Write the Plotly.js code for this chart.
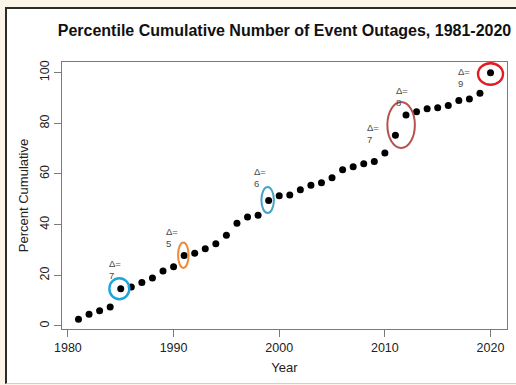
<!DOCTYPE html>
<html>
<head>
<meta charset="utf-8">
<script src="https://cdn.plot.ly/plotly-3.0.1.min.js"></script>
<style>
  html, body { margin: 0; padding: 0; width: 516px; height: 385px; overflow: hidden; background: #fbf5e9; }
  #frame {
    position: absolute; left: 5px; top: 7px; width: 530px; height: 374px;
    background: #ffffff;
    border-left: 2px solid #2b2b2b; border-top: 2px solid #2b2b2b;
    border-bottom: 1px solid #cfcfcf;
  }
  #chart { position: absolute; left: 0; top: 0; width: 516px; height: 385px; }
</style>
</head>
<body>
<div id="frame"></div>
<div id="chart"></div>
<script>
// Cumulative share of event outages by year (percent of the 1981-2020 total)
const years = [1981, 1982, 1983, 1984, 1985, 1986, 1987, 1988, 1989, 1990,
               1991, 1992, 1993, 1994, 1995, 1996, 1997, 1998, 1999, 2000,
               2001, 2002, 2003, 2004, 2005, 2006, 2007, 2008, 2009, 2010,
               2011, 2012, 2013, 2014, 2015, 2016, 2017, 2018, 2019, 2020];
const percentCumulative = [2.6, 4.6, 6.0, 7.5, 14.7, 15.4, 17.2, 18.9, 21.7, 23.4,
                           27.8, 28.7, 30.5, 32.5, 35.8, 40.5, 43.0, 43.7, 49.5, 51.4,
                           51.7, 53.8, 55.5, 56.5, 58.5, 61.7, 62.8, 64.0, 64.9, 68.3,
                           75.3, 83.3, 84.6, 85.7, 86.1, 87.0, 89.0, 89.6, 91.9, 100];

// Years with a large jump in outages, and the size of each jump
const jumpYears = [1985, 1991, 1999, 2011, 2012, 2020];
const jumpDeltas = [7, 5, 6, 7, 8, 9];

// Highlight rings: which jump years each ring encloses
const ringGroups = [[1985], [1991], [1999], [2011, 2012], [2020]];

// Ring styling (pixel sizes and offsets from the enclosed points)
const ringStyle = [
  { color: '#1ea4e0', w: 20, h: 21, dx: -1.4, dy: 0, lw: 2.4 },
  { color: '#ef8a3a', w: 10.5, h: 25.5, dx: -0.8, dy: 0.4, lw: 2.0 },
  { color: '#45a3c5', w: 12.5, h: 26, dx: -1, dy: 0.5, lw: 2.0 },
  { color: '#b45251', w: 27.5, h: 46, dx: 0.4, dy: 0, lw: 2.0 },
  { color: '#e41b1f', w: 25, h: 21.5, dx: 0, dy: -1.3, lw: 2.4 }
];

// Label offsets (pixels) for each delta label relative to its point
const labelOffset = [
  { dx: -12.4, dy: 6.7 },
  { dx: -19, dy: 6 },
  { dx: -16, dy: 10.7 },
  { dx: -29.7, dy: -10.7 },
  { dx: -11, dy: 6 },
  { dx: -34, dy: -17 }
];

const valueOf = y => percentCumulative[years.indexOf(y)];

const shapes = ringGroups.map((grp, i) => {
  const s = ringStyle[i];
  const cx = grp.reduce((a, y) => a + y, 0) / grp.length;
  const cy = grp.reduce((a, y) => a + valueOf(y), 0) / grp.length;
  return {
    type: 'circle', xref: 'x', yref: 'y',
    xsizemode: 'pixel', ysizemode: 'pixel',
    xanchor: cx, yanchor: cy,
    x0: s.dx - s.w / 2, x1: s.dx + s.w / 2,
    y0: s.dy - s.h / 2, y1: s.dy + s.h / 2,
    line: { color: s.color, width: s.lw },
    fillcolor: 'rgba(0,0,0,0)'
  };
});

const annotations = jumpYears.map((y, i) => ({
  x: y, y: valueOf(y), xref: 'x', yref: 'y',
  text: '\u0394=<br>' + jumpDeltas[i],
  showarrow: false, align: 'left',
  xanchor: 'left', yanchor: 'bottom',
  xshift: labelOffset[i].dx, yshift: labelOffset[i].dy,
  font: { family: 'Liberation Sans, Arial, sans-serif', size: 9.5, color: '#4a4a4a' },
  borderpad: 0
}));

const axisCommon = {
  showline: true, mirror: true, linecolor: '#7a7a7a', linewidth: 1,
  ticks: 'outside', ticklen: 7, tickcolor: '#7a7a7a', tickwidth: 1,
  showgrid: false, zeroline: false,
  tickfont: { family: 'Liberation Sans, Arial, sans-serif', size: 12.5, color: '#222' }
};

const trace = {
  x: years, y: percentCumulative, type: 'scatter', mode: 'markers',
  marker: { color: '#000', size: 7 },
  hoverinfo: 'x+y'
};

const layout = {
  width: 516, height: 385,
  margin: { l: 62, r: 9, t: 62, b: 56 },
  paper_bgcolor: 'rgba(0,0,0,0)', plot_bgcolor: 'rgba(0,0,0,0)',
  showlegend: false,
  title: {
    text: 'Percentile Cumulative Number of Event Outages, 1981-2020',
    font: { family: 'Liberation Sans, Arial, sans-serif', size: 16, color: '#111', weight: 'bold' },
    xref: 'paper', x: 0.5, xanchor: 'center',
    yref: 'container', y: 1 - 30 / 385, yanchor: 'middle'
  },
  xaxis: Object.assign({}, axisCommon, {
    range: [1979.44, 2021.56],
    tickvals: [1980, 1990, 2000, 2010, 2020],
    title: { text: 'Year', standoff: 8,
             font: { family: 'Liberation Sans, Arial, sans-serif', size: 13, color: '#222' } }
  }),
  yaxis: Object.assign({}, axisCommon, {
    range: [-1.2, 104.2],
    tickvals: [0, 20, 40, 60, 80, 100],
    tickangle: -90,
    title: { text: 'Percent Cumulative', standoff: 6,
             font: { family: 'Liberation Sans, Arial, sans-serif', size: 13, color: '#222' } }
  }),
  shapes: shapes,
  annotations: annotations
};

Plotly.newPlot('chart', [trace], layout, { displayModeBar: false, staticPlot: true });
</script>
</body>
</html>
